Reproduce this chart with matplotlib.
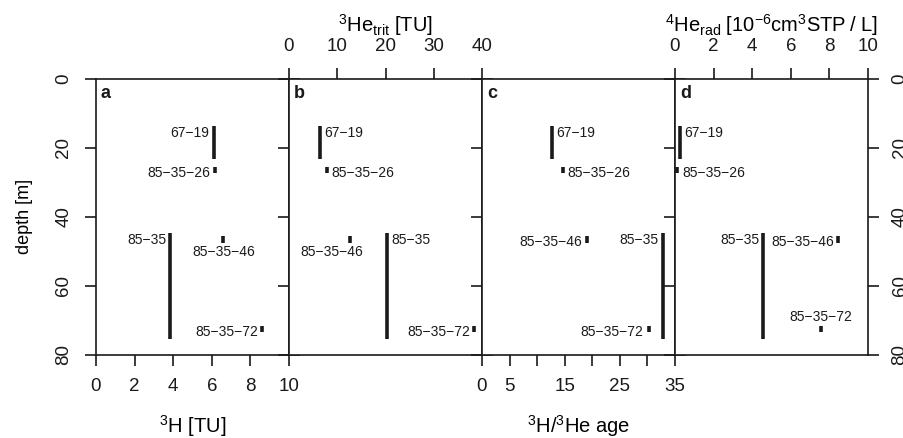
import matplotlib.pyplot as plt

plt.rcParams['font.family'] = 'Liberation Sans'
plt.rcParams['mathtext.fontset'] = 'custom'
plt.rcParams['mathtext.rm'] = 'Liberation Sans'
plt.rcParams['mathtext.it'] = 'Liberation Sans:italic'
plt.rcParams['mathtext.bf'] = 'Liberation Sans:bold'
plt.rcParams['text.color'] = '#1a1a1a'

# samples and depth ranges [m]
samples = ['67\u221219', '85\u221235\u221226', '85\u221235', '85\u221235\u221246', '85\u221235\u221272']
depth_top = [13.6, 25.5, 44.6, 45.5, 71.7]
depth_bot = [23.3, 27.2, 75.4, 47.5, 73.6]

# measured values per panel
tritium = [6.1, 6.15, 3.85, 6.6, 8.6]          # 3H [TU]
he3_trit = [6.4, 7.9, 20.4, 12.6, 38.4]        # 3He_trit [TU]
age = [12.75, 14.75, 32.75, 19.0, 30.3]        # 3H/3He age
he4_rad = [0.24, 0.08, 4.57, 8.46, 7.55]       # 4He_rad

panel_values = [tritium, he3_trit, age, he4_rad]
panel_letters = ['a', 'b', 'c', 'd']
x_limits = [(0, 10), (0, 40), (0, 35), (0, 10)]
x_ticks = [[0, 2, 4, 6, 8, 10], [0, 10, 20, 30, 40],
           [0, 5, 10, 15, 20, 25, 30, 35], [0, 2, 4, 6, 8, 10]]
x_ticklabels = [['0', '2', '4', '6', '8', '10'], ['0', '10', '20', '30', '40'],
                ['0', '5', '', '15', '', '25', '', '35'], ['0', '2', '4', '6', '8', '10']]
x_titles = [r'$^{3}$H [TU]', r'$^{3}$He$_{\mathrm{trit}}$ [TU]',
            r'$^{3}$H/$^{3}$He age',
            r'$^{4}$He$_{\mathrm{rad}}$ [10$^{-6}$cm$^{3}$STP$\;$/$\;$L]']
x_on_top = [False, True, False, True]

# label placement: (dx, dy) in points, ha, va ; anchor = bar top for long bars, middle for short ones
label_style = [
    [(-3, 0, 'right', 'top'), (-3, -2, 'right', 'center'), (-3, 0, 'right', 'top'),
     (0, -9, 'center', 'center'), (-3, -2, 'right', 'center')],
    [(3, 0, 'left', 'top'), (3, -2, 'left', 'center'), (3, 0, 'left', 'top'),
     (-13, -9, 'center', 'center'), (-3, -2, 'right', 'center')],
    [(3, 0, 'left', 'top'), (3, -2, 'left', 'center'), (-3, 0, 'right', 'top'),
     (-3, -2, 'right', 'center'), (-4, -2, 'right', 'center')],
    [(3, 0, 'left', 'top'), (4, -2, 'left', 'center'), (-3, 0, 'right', 'top'),
     (-3, -2, 'right', 'center'), (0, 9, 'center', 'center')],
]

dark = '#1a1a1a'
fig, axes = plt.subplots(1, 4, figsize=(9.04, 4.38), dpi=100, sharey=True)
fig.subplots_adjust(left=96 / 904, right=868 / 904, bottom=1 - 354.5 / 438,
                    top=1 - 79 / 438, wspace=0)

for i, ax in enumerate(axes):
    vals = panel_values[i]
    ax.vlines(vals, depth_top, depth_bot, colors=dark, linewidth=2.6)
    for j, name in enumerate(samples):
        dx, dy, ha, va = label_style[i][j]
        long_bar = (depth_bot[j] - depth_top[j]) > 5
        y = depth_top[j] if long_bar else (depth_top[j] + depth_bot[j]) / 2
        ax.annotate(name, (vals[j], y), xytext=(dx, dy), textcoords='offset points',
                    ha=ha, va=va, fontsize=10, color=dark)
    ax.text(0.025, 0.98, panel_letters[i], transform=ax.transAxes, fontsize=13,
            fontweight='bold', ha='left', va='top', color=dark)

    ax.set_xlim(*x_limits[i])
    ax.set_ylim(80, 0)
    ax.set_yticks([0, 20, 40, 60, 80])
    for s in ax.spines.values():
        s.set_linewidth(1.2)
        s.set_color(dark)

    ax.set_xticks(x_ticks[i])
    ax.set_xticklabels(x_ticklabels[i])
    if x_on_top[i]:
        ax.tick_params(axis='x', top=True, bottom=False, labeltop=True, labelbottom=False)
        ax.xaxis.set_label_position('top')
        ax.set_xlabel(x_titles[i], fontsize=14.5, labelpad=5)
    else:
        ax.tick_params(axis='x', top=False, bottom=True, labeltop=False, labelbottom=True)
        ax.set_xlabel(x_titles[i], fontsize=14.5, labelpad=13)
    ax.tick_params(axis='x', direction='out', length=8, width=1.2, color=dark,
                   labelsize=13.5, pad=9, labelcolor=dark)
    ax.tick_params(axis='y', direction='out', length=8, width=1.2, color=dark,
                   left=True, right=True, labelleft=(i == 0), labelright=(i == 3),
                   labelsize=13.5, pad=9, labelrotation=90, labelcolor=dark)
    for lbl in ax.get_yticklabels():
        lbl.set_va('center')

axes[0].set_ylabel('depth [m]', fontsize=13, labelpad=16)

fig.savefig('out.png', dpi=100)
